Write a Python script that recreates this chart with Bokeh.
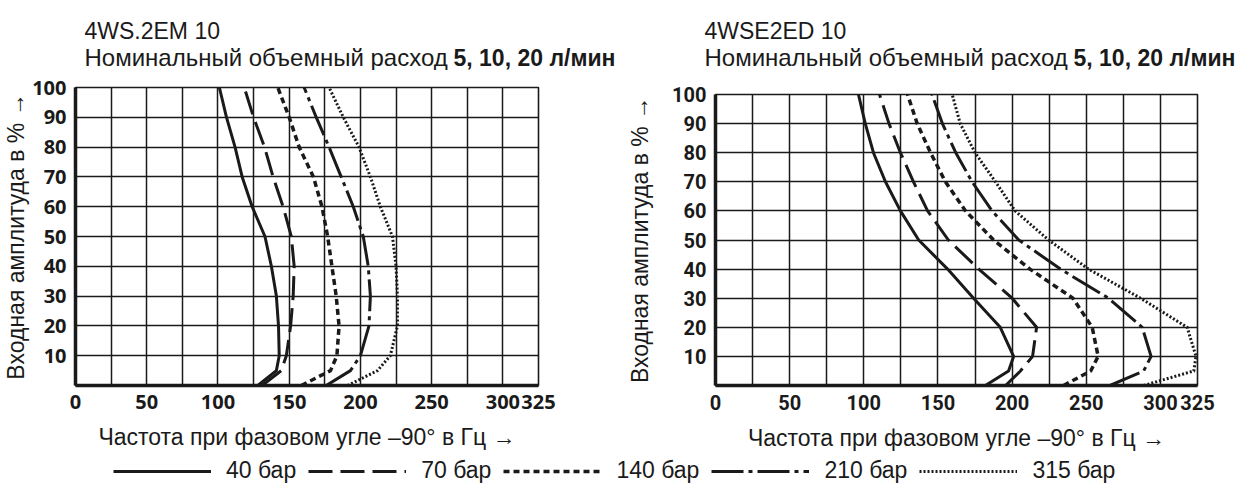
from bokeh.plotting import figure
from bokeh.models import Range1d, FixedTicker, Legend, LegendItem, Spacer
from bokeh.layouts import column, row
from bokeh.core.properties import value
from bokeh.embed import file_html
from bokeh.resources import INLINE

# ---------------- data ----------------
amplitude = [0, 5, 10, 20, 30, 40, 50, 60, 70, 80, 90, 100]

# left chart: 4WS.2EM 10  (frequency in Hz at each amplitude level)
left_40 = [128, 141, 143, 142.5, 141, 137.5, 133, 124, 117, 112, 106, 101]
left_70 = [131, 144.5, 148, 151, 152.8, 153.5, 151.5, 145.7, 138.7, 132.7, 125, 118.5]
left_140 = [158.5, 179, 183.5, 185, 183, 180, 177, 173, 167, 157, 150, 142]
left_210 = [176, 193, 200, 206, 207, 205.5, 202, 195, 186.5, 178, 169, 160.5]
left_315 = [191, 212, 221, 226, 226, 225, 222.5, 214, 207, 199, 188, 178]

# right chart: 4WSE2ED 10
right_40 = [182, 197.6, 201, 192, 174, 156.5, 137, 124.7, 114.6, 106.5, 101, 96.4]
right_70 = [195.6, 205.6, 213.8, 216.5, 200, 177.5, 157, 143, 133.5, 124.7, 117, 110.6]
right_140 = [234.7, 253, 258, 254, 241, 212, 187.5, 168.6, 155, 145, 136, 129.5]
right_210 = [266, 288.7, 293.7, 287.7, 265, 232.6, 204.5, 186.5, 173, 162, 153, 146]
right_315 = [288.7, 322.5, 324, 318, 286.6, 251.5, 224.6, 202, 188.8, 175, 165, 159.6]

series_labels = ["40 бар", "70 бар", "140 бар", "210 бар", "315 бар"]
x_ticks = [0, 50, 100, 150, 200, 250, 300, 325]
y_ticks = [10, 20, 30, 40, 50, 60, 70, 80, 90, 100]
x_grid = list(range(0, 326, 25))

title_models = ["4WS.2EM 10", "4WSE2ED 10"]
title_regular = "Номинальный объемный расход"
title_bold = "5, 10, 20 л/мин"
x_title = "Частота при фазовом угле –90° в Гц →"
y_title = "Входная амплитуда в % →"

# ---------------- styles ----------------
INK = "#1a1a1a"
TXT_FONT = "Liberation Sans"
styles = [
    dict(line_dash="solid", line_width=3),
    dict(line_dash="24 8", line_width=3),
    dict(line_dash="6 4", line_width=3.5),
    dict(line_dash="32 5 4 5", line_width=3),
    dict(line_dash="2 2", line_width=3),
]

HEADER_H = 70
CHART_H = 384
LEGEND_H = 30


def make_chart(series, tick_font, height, left, right, ylab_standoff):
    p = figure(width=620, height=height, output_backend="svg", toolbar_location=None,
               x_range=Range1d(0, 325), y_range=Range1d(0, 100),
               min_border_left=left, min_border_right=right, min_border_top=17,
               min_border_bottom=69)
    p.background_fill_color = "white"
    p.border_fill_color = "white"
    p.outline_line_color = INK
    p.outline_line_width = 1.6
    for g in (p.xgrid[0], p.ygrid[0]):
        g.grid_line_color = INK
        g.grid_line_width = 1.5
        g.grid_line_alpha = 1
    p.xgrid.ticker = FixedTicker(ticks=x_grid)
    p.ygrid.ticker = FixedTicker(ticks=y_ticks)
    p.xaxis.ticker = FixedTicker(ticks=x_ticks)
    p.yaxis.ticker = FixedTicker(ticks=y_ticks)
    for ax in (p.xaxis[0], p.yaxis[0]):
        ax.axis_line_width = 3.5
        ax.axis_line_color = INK
        ax.major_tick_line_color = None
        ax.minor_tick_line_color = None
        ax.major_label_text_font = tick_font
        ax.major_label_text_font_style = "bold"
        ax.major_label_text_font_size = "20px"
        ax.major_label_text_color = INK
        ax.axis_label_text_font = TXT_FONT
        ax.axis_label_text_font_style = "normal"
        ax.axis_label_text_font_size = "23px"
        ax.axis_label_text_color = INK
    p.xaxis.axis_label = x_title
    p.yaxis.axis_label = y_title
    p.xaxis.major_label_standoff = 3
    p.xaxis.axis_label_standoff = 12
    p.yaxis.major_label_standoff = 3
    p.yaxis.axis_label_standoff = ylab_standoff

    for xs, st in zip(series, styles):
        p.line(x=xs, y=amplitude, line_color=INK, line_join="round", **st)
    return p


p1 = make_chart([left_40, left_70, left_140, left_210, left_315],
                "Open Sans", CHART_H, 73, 82, 0)
p2 = make_chart([right_40, right_70, right_140, right_210, right_315],
                "Roboto", CHART_H - 7, 95, 43, 16)

# header strip with the two chart titles (pixel-like coordinates, y downwards)
ph = figure(width=1240, height=HEADER_H, output_backend="svg", toolbar_location=None,
            x_range=Range1d(0, 1240), y_range=Range1d(HEADER_H, 0), min_border=0,
            x_axis_location=None, y_axis_location=None)
ph.grid.visible = False
ph.outline_line_color = None
title_x = [84, 704]
bold_x = [453, 1073]
ph.text(x=title_x, y=[30, 30], text=title_models, text_font=value(TXT_FONT),
        text_font_size="23px", text_color=INK, text_baseline="alphabetic")
ph.text(x=title_x, y=[57, 57], text=[title_regular] * 2, text_font=value(TXT_FONT),
        text_font_size="24px", text_color=INK, text_baseline="alphabetic")
ph.text(x=bold_x, y=[57, 57], text=[title_bold] * 2, text_font=value(TXT_FONT),
        text_font_size="23px", text_font_style="bold", text_color=INK,
        text_baseline="alphabetic")

# legend strip (legend proxies reuse the data, kept outside the visible x range)
p3 = figure(width=1240, height=LEGEND_H, output_backend="svg", toolbar_location=None,
            x_range=Range1d(-20, -10), y_range=Range1d(0, 1), min_border=0,
            x_axis_location=None, y_axis_location=None)
p3.grid.visible = False
p3.outline_line_color = None
items = []
for lab, xs, st in zip(series_labels, [left_40, left_70, left_140, left_210, left_315], styles):
    r = p3.line(x=xs, y=amplitude, line_color=INK, **st)
    items.append(LegendItem(label=lab, renderers=[r]))
legend = Legend(items=items, orientation="horizontal", location=(113, 0),
                glyph_width=98, glyph_height=26, label_standoff=15, spacing=12,
                padding=0, margin=0, border_line_color=None, background_fill_alpha=0,
                label_text_font=TXT_FONT, label_text_font_size="23px",
                label_text_color=INK, label_height=26)
p3.add_layout(legend, "center")

layout = column(ph, row(p1, column(Spacer(width=620, height=7), p2)), p3)
open("out.html", "w").write(file_html(layout, INLINE))
